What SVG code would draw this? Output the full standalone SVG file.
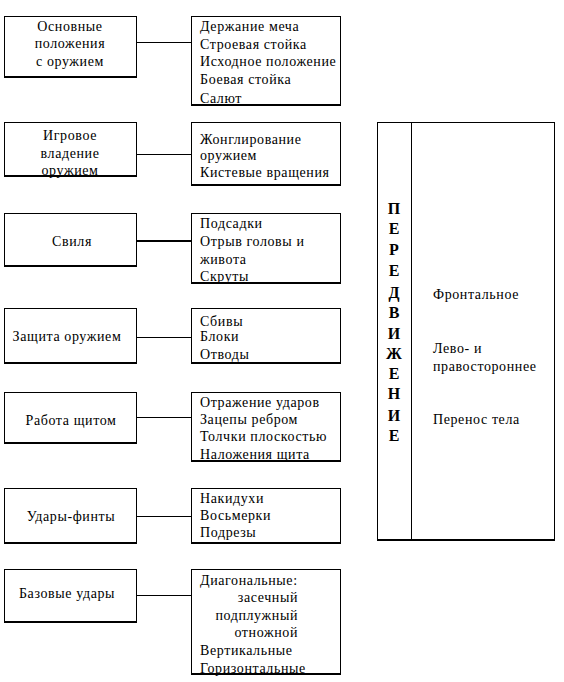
<svg xmlns="http://www.w3.org/2000/svg" width="564" height="682" viewBox="0 0 564 682">
<style>
text{font-family:"Liberation Serif","Times New Roman",serif;font-size:14px;letter-spacing:0.6px;fill:#000}
.c{text-anchor:middle}
.r{text-anchor:end}
.v{font-size:16px;font-weight:bold;text-anchor:middle;letter-spacing:0}
rect{fill:#fff;stroke:#000;stroke-width:1}
.b{stroke:#000;stroke-width:2}
line{stroke:#000;stroke-width:1}
</style>
<rect x="0" y="0" width="564" height="682" style="stroke:none"/>
<g id="connectors">
<line x1="137" y1="42.5" x2="191" y2="42.5"/>
<line x1="137" y1="154.5" x2="191" y2="154.5"/>
<line x1="137" y1="241" x2="191" y2="241" style="stroke-width:2"/>
<line x1="137" y1="337.5" x2="191" y2="337.5"/>
<line x1="137" y1="417.5" x2="191" y2="417.5"/>
<line x1="137" y1="516.5" x2="191" y2="516.5"/>
<line x1="137" y1="595.5" x2="191" y2="595.5"/>
</g>
<g id="n1"><rect x="4.5" y="16.5" width="132" height="60"/><line class="b" x1="4" y1="77" x2="137" y2="77"/>
<text class="c" x="70" y="31">Основные</text><text class="c" x="70" y="48">положения</text><text class="c" x="70" y="66">с оружием</text></g>
<g id="n1r"><rect x="191.5" y="16.5" width="149" height="88"/><line class="b" x1="191" y1="105" x2="341" y2="105"/>
<text x="200" y="31">Держание меча</text><text x="200" y="49">Строевая стойка</text><text x="200" y="66">Исходное положение</text><text x="200" y="84">Боевая стойка</text><text x="200" y="103">Салют</text></g>
<g id="n2"><rect x="4.5" y="122.5" width="132" height="53"/><line class="b" x1="4" y1="176" x2="137" y2="176"/>
<text class="c" x="70" y="140">Игровое</text><text class="c" x="70" y="158">владение</text><text class="c" x="70" y="175">оружием</text></g>
<g id="n2r"><rect x="191.5" y="122.5" width="149" height="62"/><line class="b" x1="191" y1="185" x2="341" y2="185"/>
<text x="200" y="144">Жонглирование</text><text x="200" y="160">оружием</text><text x="200" y="177">Кистевые вращения</text></g>
<g id="n3"><rect x="4.5" y="213.5" width="132" height="52"/><line class="b" x1="4" y1="266" x2="137" y2="266"/>
<text class="c" x="72" y="246">Свиля</text></g>
<g id="n3r"><rect x="191.5" y="213.5" width="149" height="69"/><line class="b" x1="191" y1="283" x2="341" y2="283"/>
<text x="200" y="228">Подсадки</text><text x="200" y="246">Отрыв головы и</text><text x="200" y="264">живота</text><text x="200" y="281">Скруты</text></g>
<g id="n4"><rect x="4.5" y="308.5" width="132" height="54"/><line class="b" x1="4" y1="363" x2="137" y2="363"/>
<text class="c" x="67" y="341">Защита оружием</text></g>
<g id="n4r"><rect x="191.5" y="308.5" width="149" height="54"/><line class="b" x1="191" y1="363" x2="341" y2="363"/>
<text x="200" y="326">Сбивы</text><text x="200" y="341">Блоки</text><text x="200" y="359">Отводы</text></g>
<g id="n5"><rect x="4.5" y="392.5" width="132" height="50"/><line class="b" x1="4" y1="443" x2="137" y2="443"/>
<text class="c" x="71" y="425">Работа щитом</text></g>
<g id="n5r"><rect x="191.5" y="392.5" width="149" height="68"/><line class="b" x1="191" y1="461" x2="341" y2="461"/>
<text x="200" y="407">Отражение ударов</text><text x="200" y="424">Зацепы ребром</text><text x="200" y="441">Толчки плоскостью</text><text x="200" y="459">Наложения щита</text></g>
<g id="n6"><rect x="4.5" y="488.5" width="132" height="54"/><line class="b" x1="4" y1="543" x2="137" y2="543"/>
<text class="c" x="71" y="521">Удары-финты</text></g>
<g id="n6r"><rect x="191.5" y="488.5" width="149" height="54"/><line class="b" x1="191" y1="543" x2="341" y2="543"/>
<text x="200" y="503">Накидухи</text><text x="200" y="520">Восьмерки</text><text x="200" y="537">Подрезы</text></g>
<g id="n7"><rect x="4.5" y="569.5" width="132" height="52"/><line class="b" x1="4" y1="622" x2="137" y2="622"/>
<text class="c" x="67" y="598">Базовые удары</text></g>
<g id="n7r"><rect x="191.5" y="569.5" width="149" height="104"/><line class="b" x1="191" y1="674" x2="341" y2="674"/>
<text x="200" y="585">Диагональные:</text><text class="r" x="298" y="602">засечный</text><text class="r" x="298" y="620">подплужный</text><text class="r" x="298" y="637">отножной</text><text x="200" y="655">Вертикальные</text><text x="200" y="673">Горизонтальные</text></g>
<g id="panel"><rect x="377.5" y="122.5" width="177" height="417"/><line class="b" x1="377" y1="540" x2="555" y2="540"/><line x1="411.5" y1="122" x2="411.5" y2="540"/>
<text class="v" x="394" y="214">П</text><text class="v" x="394" y="234">Е</text><text class="v" x="394" y="255">Р</text><text class="v" x="394" y="276">Е</text><text class="v" x="394" y="298">Д</text><text class="v" x="394" y="318">В</text><text class="v" x="394" y="339">И</text><text class="v" x="394" y="359">Ж</text><text class="v" x="394" y="379">Е</text><text class="v" x="394" y="399">Н</text><text class="v" x="394" y="421">И</text><text class="v" x="394" y="441">Е</text>
<text x="433" y="299">Фронтальное</text><text x="433" y="353">Лево- и</text><text x="433" y="371">правостороннее</text><text x="433" y="424">Перенос тела</text></g>
</svg>
